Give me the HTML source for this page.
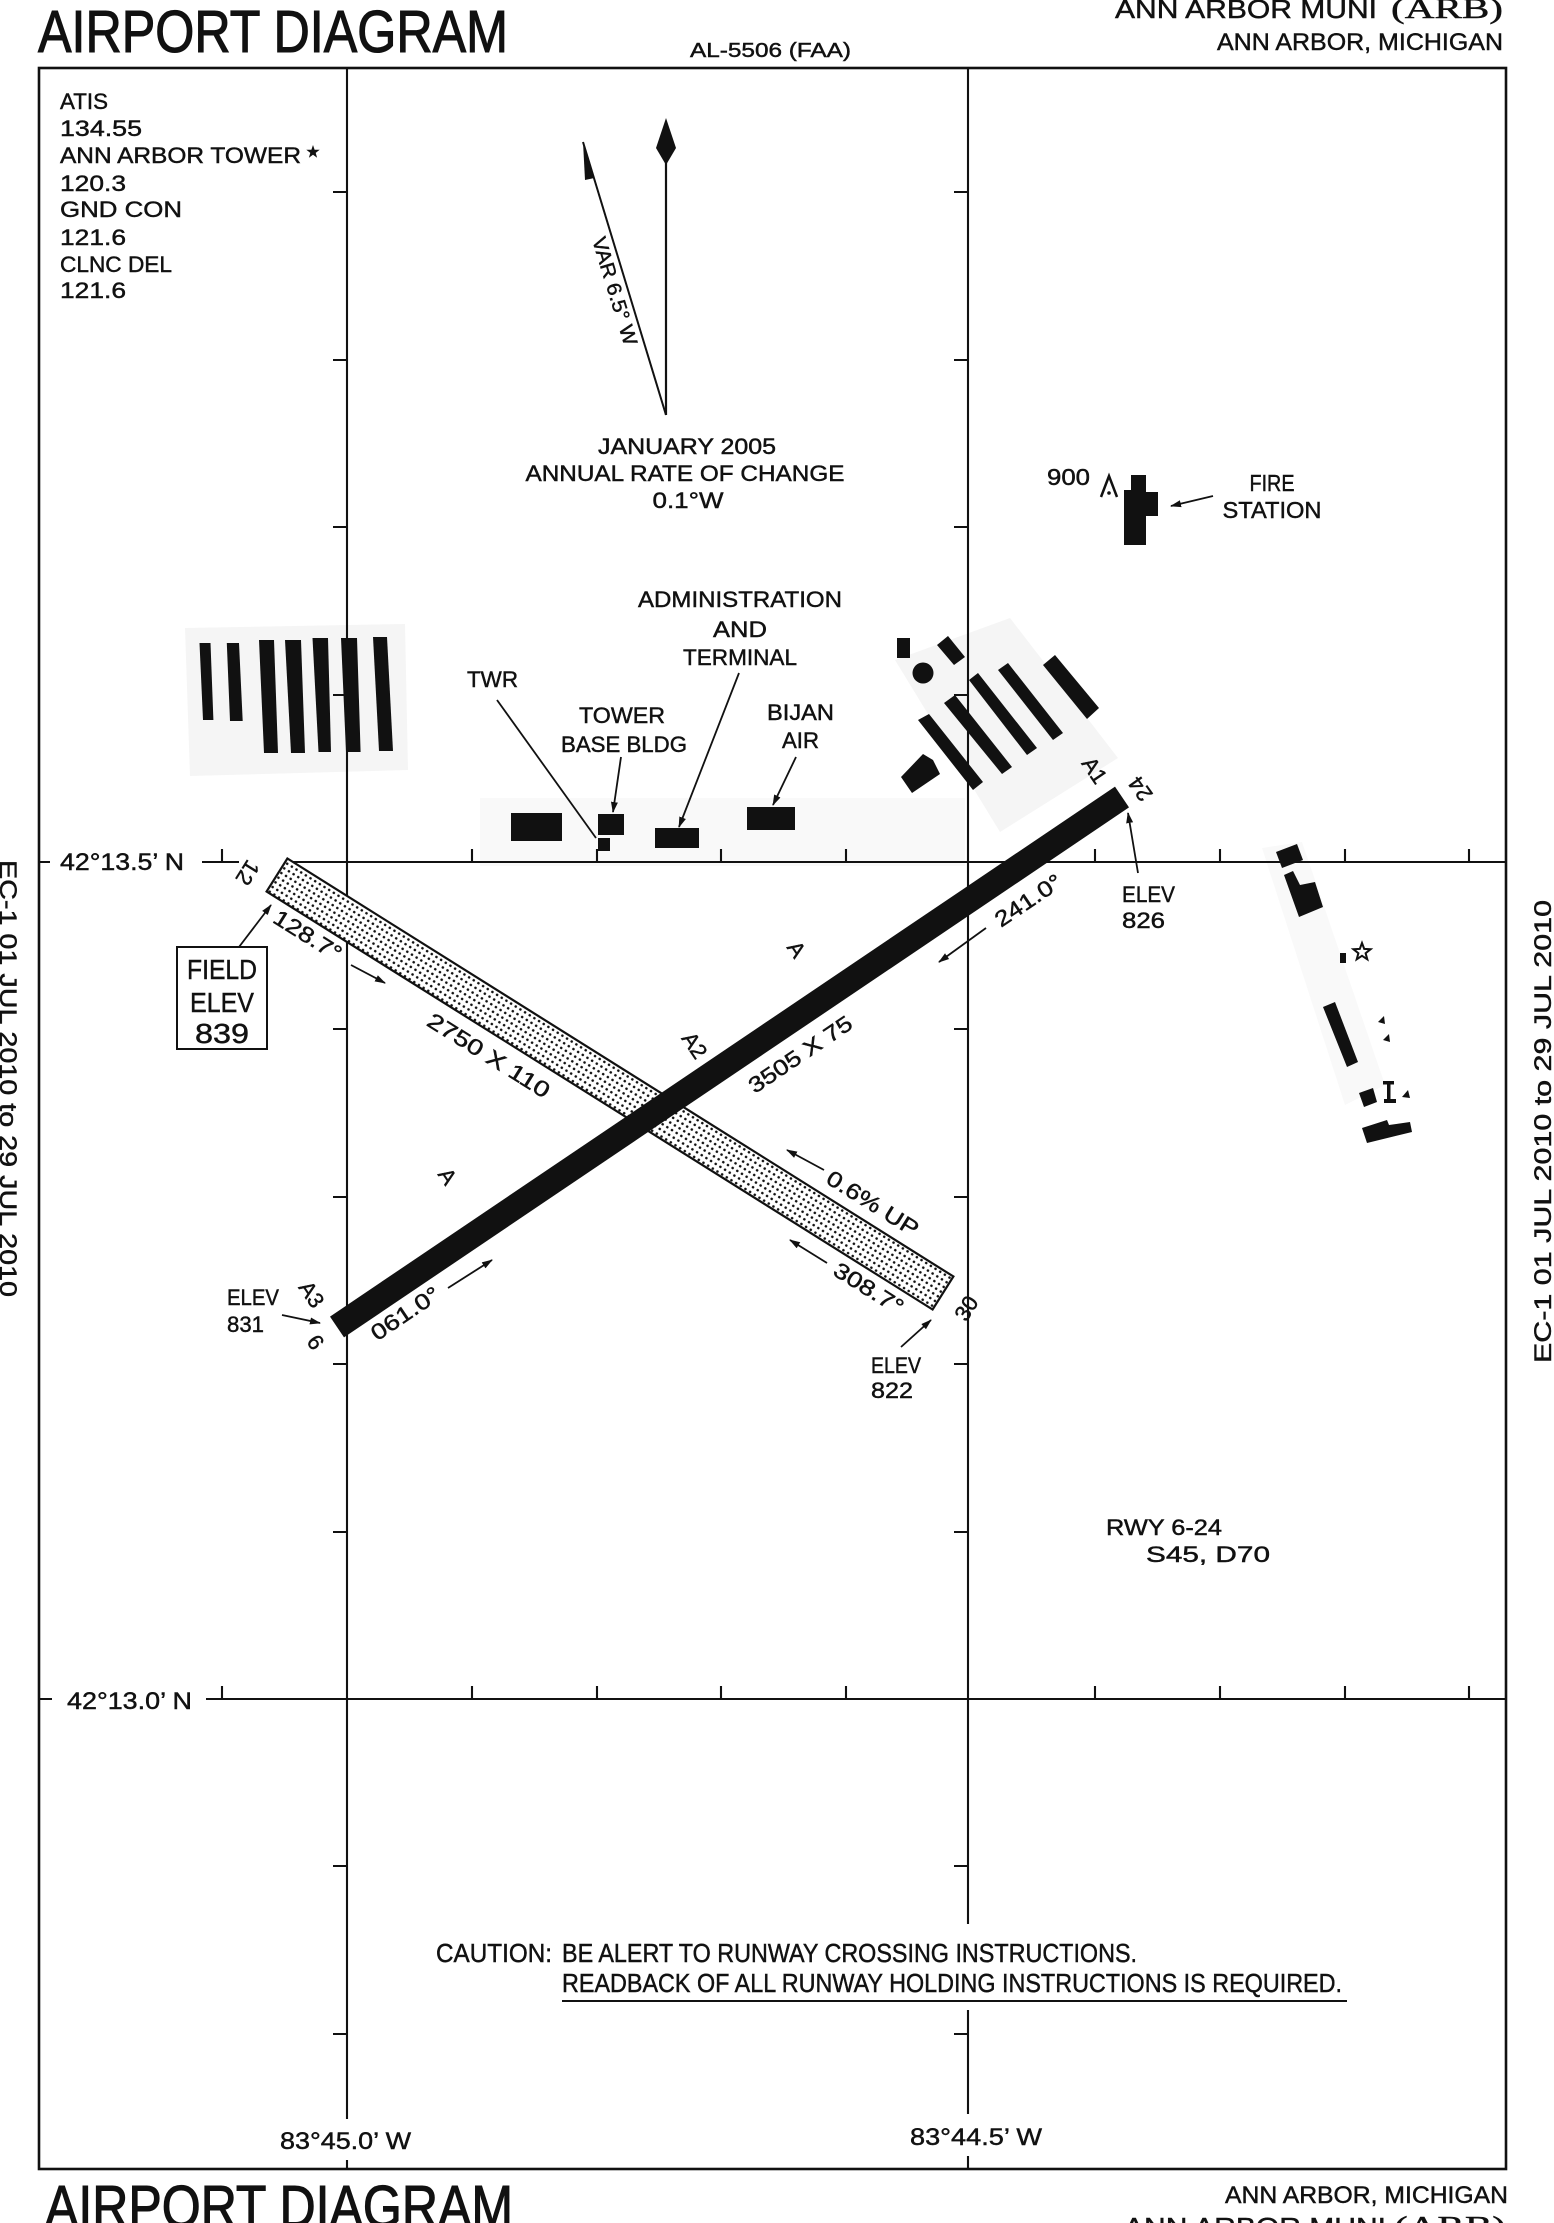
<!DOCTYPE html>
<html>
<head>
<meta charset="utf-8">
<style>
html,body{margin:0;padding:0;background:#fff;}
svg{display:block}
text{font-family:"Liberation Sans",sans-serif;fill:#111;stroke:#111;stroke-width:0.45px;}
.serif{font-family:"Liberation Serif",serif;}
.big{stroke-width:1.1px;}
</style>
</head>
<body>
<svg xmlns="http://www.w3.org/2000/svg" width="1554" height="2223" viewBox="0 0 1554 2223">
<defs>
  <pattern id="stip" width="5.5" height="5.5" patternUnits="userSpaceOnUse" patternTransform="rotate(32)">
    <rect width="5.5" height="5.5" fill="#fff"/>
    <circle cx="2.75" cy="2.75" r="1.3" fill="#111"/>
  </pattern>
  <marker id="ah" markerWidth="11" markerHeight="8" refX="10" refY="4" orient="auto" markerUnits="userSpaceOnUse">
    <path d="M0,0.5 L11,4 L0,7.5 z" fill="#111"/>
  </marker>
</defs>
<rect width="1554" height="2223" fill="#fff"/>

<!-- faint aprons -->
<g fill="#f5f5f5" stroke="none">
  <polygon points="185,628 405,624 408,770 190,776"/>
  <polygon points="895,660 1010,618 1118,758 1000,832"/>
</g>
<g fill="#f9f9f9" stroke="none">
  <polygon points="480,798 965,798 965,866 480,866"/>
  <polygon points="1262,848 1302,842 1385,1085 1345,1105"/>
</g>

<!-- Header -->
<text class="big" x="38" y="52" font-size="59" textLength="470" lengthAdjust="spacingAndGlyphs">AIRPORT DIAGRAM</text>
<text x="690" y="57" font-size="20" textLength="161" lengthAdjust="spacingAndGlyphs">AL-5506 (FAA)</text>
<text x="1115" y="18" font-size="26" textLength="262" lengthAdjust="spacingAndGlyphs">ANN ARBOR MUNI</text>
<text x="1391" y="18" font-size="28" class="serif" textLength="112" lengthAdjust="spacingAndGlyphs">(ARB)</text>
<text x="1217" y="50" font-size="24" textLength="286" lengthAdjust="spacingAndGlyphs">ANN ARBOR, MICHIGAN</text>

<!-- Frame -->
<rect x="39" y="68" width="1467" height="2101" fill="none" stroke="#111" stroke-width="2.6"/>

<!-- Grid lines -->
<g stroke="#111" stroke-width="2.1" fill="none">
  <path d="M347,68 V2119 M347,2160 V2169"/>
  <path d="M968,68 V1924 M968,2010 V2114 M968,2156 V2169"/>
  <path d="M202,862 H239 M286,862 H1506"/>
  <path d="M206,1699 H1506"/>
  <path d="M39,862 H50 M39,1699 H52"/>
  <path d="M333,192H347M333,360H347M333,527H347M333,695H347M333,1029H347M333,1197H347M333,1364H347M333,1532H347M333,1866H347M333,2034H347"/>
  <path d="M954,192H968M954,360H968M954,527H968M954,695H968M954,1029H968M954,1197H968M954,1364H968M954,1532H968M954,1866H968M954,2034H968"/>
  <path d="M222,849V862M472,849V862M597,849V862M721,849V862M846,849V862M1095,849V862M1220,849V862M1345,849V862M1469,849V862"/>
  <path d="M222,1686V1699M472,1686V1699M597,1686V1699M721,1686V1699M846,1686V1699M1095,1686V1699M1220,1686V1699M1345,1686V1699M1469,1686V1699"/>
</g>

<!-- Comms block -->
<g font-size="22.5">
  <text x="60" y="109" textLength="48" lengthAdjust="spacingAndGlyphs">ATIS</text>
  <text x="60" y="136" textLength="82" lengthAdjust="spacingAndGlyphs">134.55</text>
  <text x="60" y="163" textLength="241" lengthAdjust="spacingAndGlyphs">ANN ARBOR TOWER</text>
  <text x="60" y="191" textLength="66" lengthAdjust="spacingAndGlyphs">120.3</text>
  <text x="60" y="217" textLength="122" lengthAdjust="spacingAndGlyphs">GND CON</text>
  <text x="60" y="245" textLength="66" lengthAdjust="spacingAndGlyphs">121.6</text>
  <text x="60" y="272" textLength="112" lengthAdjust="spacingAndGlyphs">CLNC DEL</text>
  <text x="60" y="298" textLength="66" lengthAdjust="spacingAndGlyphs">121.6</text>
</g>
<polygon fill="#111" points="313,145 314.6,149.7 319.7,149.8 315.7,152.9 317.1,157.7 313,154.8 308.9,157.7 310.3,152.9 306.3,149.8 311.4,149.7"/>

<!-- Variation arrow -->
<line x1="666" y1="150" x2="666" y2="415" stroke="#111" stroke-width="2.2"/>
<polygon fill="#111" points="666,118 676,148 666,165 656,148"/>
<line x1="583" y1="142" x2="666" y2="415" stroke="#111" stroke-width="2"/>
<polygon fill="#111" points="583,142 585,180 594.5,178"/>
<text transform="translate(615,291) rotate(73.1)" text-anchor="middle" dy="7" font-size="20" textLength="112" lengthAdjust="spacingAndGlyphs">VAR 6.5° W</text>

<g font-size="22" text-anchor="middle">
  <text x="687" y="454" textLength="178" lengthAdjust="spacingAndGlyphs">JANUARY 2005</text>
  <text x="685" y="481" textLength="319" lengthAdjust="spacingAndGlyphs">ANNUAL RATE OF CHANGE</text>
  <text x="688" y="508" textLength="71" lengthAdjust="spacingAndGlyphs">0.1°W</text>
</g>

<!-- Fire station -->
<text x="1047" y="485" font-size="23" textLength="43" lengthAdjust="spacingAndGlyphs">900</text>
<polyline points="1101,497 1109,476 1117,497" fill="none" stroke="#111" stroke-width="2.5"/>
<circle cx="1109" cy="493" r="1.8" fill="#111"/>
<polygon fill="#111" points="1131,475 1146,475 1146,492 1158,492 1158,516 1146,516 1146,545 1124,545 1124,490 1131,490"/>
<line x1="1213" y1="496" x2="1171" y2="506" stroke="#111" stroke-width="1.8" marker-end="url(#ah)"/>
<g font-size="23" text-anchor="middle">
  <text x="1272" y="491" textLength="45" lengthAdjust="spacingAndGlyphs">FIRE</text>
  <text x="1272" y="518" textLength="99" lengthAdjust="spacingAndGlyphs">STATION</text>
</g>

<!-- Left hangars -->
<g fill="#111">
  <polygon points="199.5,643 210.5,643 213.4,720 203,720"/>
  <polygon points="226.8,643 239,643 242.7,721 230,721"/>
  <polygon points="259,640 274,640 278,753 264,753"/>
  <polygon points="285,640 301,640 305,753 291,753"/>
  <polygon points="312.5,638 328,638 331,752 318.5,752"/>
  <polygon points="341,638 357,638 360.6,752 346,752"/>
  <polygon points="373,637 387,637 393,751 379,751"/>
</g>

<!-- Terminal buildings -->
<g fill="#111">
  <rect x="511" y="813" width="51" height="28"/>
  <rect x="598" y="814" width="26" height="21"/>
  <rect x="598" y="838" width="12" height="13"/>
  <rect x="655" y="828" width="44" height="20"/>
  <rect x="747" y="807" width="48" height="23"/>
</g>
<g stroke="#111" stroke-width="1.8" fill="none">
  <line x1="497" y1="700" x2="596" y2="838"/>
  <line x1="621" y1="757" x2="613" y2="812" marker-end="url(#ah)"/>
  <line x1="739" y1="673" x2="679" y2="827" marker-end="url(#ah)"/>
  <line x1="796" y1="757" x2="773" y2="805" marker-end="url(#ah)"/>
</g>
<g font-size="22">
  <text x="467" y="687" textLength="51" lengthAdjust="spacingAndGlyphs">TWR</text>
  <text x="579" y="723" textLength="86" lengthAdjust="spacingAndGlyphs">TOWER</text>
  <text x="561" y="752" textLength="126" lengthAdjust="spacingAndGlyphs">BASE BLDG</text>
  <text x="740" y="607" text-anchor="middle" textLength="204" lengthAdjust="spacingAndGlyphs">ADMINISTRATION</text>
  <text x="740" y="637" text-anchor="middle" textLength="54" lengthAdjust="spacingAndGlyphs">AND</text>
  <text x="683" y="665" textLength="114" lengthAdjust="spacingAndGlyphs">TERMINAL</text>
  <text x="767" y="720" textLength="67" lengthAdjust="spacingAndGlyphs">BIJAN</text>
  <text x="782" y="748" textLength="37" lengthAdjust="spacingAndGlyphs">AIR</text>
</g>

<!-- Right hangars -->
<g fill="#111">
  <rect x="897" y="638" width="13" height="20"/>
  <polygon points="937,645 948,636 965,657 954,665"/>
  <circle cx="923" cy="673" r="10.5"/>
  <polygon points="1043,665 1055,655 1099,708 1087,719"/>
  <polygon points="998,670 1008,663 1063,733 1053,740"/>
  <polygon points="969,680 978,673 1037,748 1027,755"/>
  <polygon points="944,703 955,695 1012,767 1002,774"/>
  <polygon points="918,720 929,714 983,782 973,790"/>
  <polygon points="901,777 923,754 933,760 940,774 912,793"/>
</g>

<!-- Right-side buildings -->
<g fill="#111">
  <polygon points="1276,852 1297,844 1303,860 1282,868"/>
  <polygon points="1284,875 1293,871 1300,885 1315,882 1323,907 1299,917"/>
  <rect x="1340" y="953" width="6" height="10"/>
  <polygon points="1323,1007 1335,1002 1358,1062 1347,1067"/>
  <polygon points="1378,1022 1384,1016 1385,1024"/>
  <polygon points="1383,1040 1389,1034 1390,1042"/>
  <polygon points="1359,1093 1373,1088 1377,1102 1364,1107"/>
  <rect x="1383" y="1081" width="11" height="3.5"/>
  <rect x="1387" y="1081" width="3.5" height="21"/>
  <rect x="1384" y="1099" width="12" height="4"/>
  <polygon points="1402,1097 1408,1090 1410,1098"/>
  <polygon points="1362,1128 1387,1120 1389,1125 1410,1122 1412,1132 1367,1143"/>
</g>
<polygon fill="none" stroke="#111" stroke-width="2" points="1362,943 1364.2,948.9 1370.6,949.2 1365.6,953.2 1367.3,959.3 1362,955.8 1356.7,959.3 1358.4,953.2 1353.4,949.2 1359.8,948.9"/>

<!-- Runway 12-30 -->
<polygon points="287.4,858.5 266.6,891.5 932.6,1309.5 953.4,1276.5" fill="url(#stip)" stroke="#111" stroke-width="2.2"/>
<!-- Runway 6-24 -->
<polygon points="330,1316.6 344,1337.4 1129,807.4 1115,786.6" fill="#111"/>

<!-- Runway labels -->
<g font-size="22" text-anchor="middle">
  <text transform="translate(308,935) rotate(32)" dy="8" textLength="76" lengthAdjust="spacingAndGlyphs">128.7°</text>
  <text transform="translate(489,1055) rotate(32)" dy="8" textLength="140" lengthAdjust="spacingAndGlyphs">2750 X 110</text>
  <text transform="translate(873,1203) rotate(32)" dy="8" textLength="104" lengthAdjust="spacingAndGlyphs">0.6% UP</text>
  <text transform="translate(869,1288) rotate(32)" dy="8" textLength="78" lengthAdjust="spacingAndGlyphs">308.7°</text>
  <text transform="translate(800,1054) rotate(-34)" dy="8" textLength="120" lengthAdjust="spacingAndGlyphs">3505 X 75</text>
  <text transform="translate(1028,900) rotate(-34)" dy="8" textLength="76" lengthAdjust="spacingAndGlyphs">241.0°</text>
  <text transform="translate(405,1313) rotate(-34)" dy="8" textLength="78" lengthAdjust="spacingAndGlyphs">061.0°</text>
  <text transform="translate(248,873) rotate(122)" dy="8">12</text>
  <text transform="translate(966,1308) rotate(-58)" dy="8">30</text>
  <text transform="translate(316,1342) rotate(54.5)" dy="8">6</text>
  <text transform="translate(1140,789) rotate(-125.5)" dy="8">24</text>
  <text transform="translate(1095,770) rotate(56)" dy="8">A1</text>
  <text transform="translate(695,1045) rotate(56)" dy="8">A2</text>
  <text transform="translate(312,1294) rotate(56)" dy="8">A3</text>
  <text transform="translate(797,949) rotate(56)" dy="8">A</text>
  <text transform="translate(448,1176) rotate(56)" dy="8">A</text>
</g>
<g stroke="#111" stroke-width="1.8">
  <line x1="351" y1="965" x2="385" y2="983" marker-end="url(#ah)"/>
  <line x1="824" y1="1170" x2="787" y2="1150" marker-end="url(#ah)"/>
  <line x1="827" y1="1263" x2="790" y2="1240" marker-end="url(#ah)"/>
  <line x1="986" y1="928" x2="939" y2="962" marker-end="url(#ah)"/>
  <line x1="448" y1="1288" x2="492" y2="1260" marker-end="url(#ah)"/>
  <line x1="282" y1="1315" x2="320" y2="1323" marker-end="url(#ah)"/>
  <line x1="901" y1="1347" x2="931" y2="1320" marker-end="url(#ah)"/>
  <line x1="1138" y1="873" x2="1128" y2="813" marker-end="url(#ah)"/>
  <line x1="239" y1="947" x2="271" y2="905" marker-end="url(#ah)"/>
</g>

<!-- ELEV labels -->
<g font-size="22">
  <text x="227" y="1305" textLength="52" lengthAdjust="spacingAndGlyphs">ELEV</text>
  <text x="227" y="1332" textLength="37" lengthAdjust="spacingAndGlyphs">831</text>
  <text x="871" y="1373" textLength="50" lengthAdjust="spacingAndGlyphs">ELEV</text>
  <text x="871" y="1398" textLength="42" lengthAdjust="spacingAndGlyphs">822</text>
  <text x="1122" y="902" textLength="53" lengthAdjust="spacingAndGlyphs">ELEV</text>
  <text x="1122" y="928" textLength="43" lengthAdjust="spacingAndGlyphs">826</text>
</g>

<!-- Field elev box -->
<rect x="177" y="947" width="90" height="102" fill="#fff" stroke="#111" stroke-width="2"/>
<g font-size="28" text-anchor="middle">
  <text x="222" y="979" textLength="70" lengthAdjust="spacingAndGlyphs">FIELD</text>
  <text x="222" y="1012" textLength="64" lengthAdjust="spacingAndGlyphs">ELEV</text>
  <text x="222" y="1043" textLength="54" lengthAdjust="spacingAndGlyphs">839</text>
</g>

<!-- RWY note -->
<g font-size="22">
  <text x="1106" y="1535" textLength="116" lengthAdjust="spacingAndGlyphs">RWY 6-24</text>
  <text x="1146" y="1562" textLength="124" lengthAdjust="spacingAndGlyphs">S45, D70</text>
</g>

<!-- Grid labels -->
<g font-size="24">
  <text x="60" y="870" textLength="124" lengthAdjust="spacingAndGlyphs">42°13.5’ N</text>
  <text x="67" y="1709" textLength="125" lengthAdjust="spacingAndGlyphs">42°13.0’ N</text>
  <text x="280" y="2149" textLength="131" lengthAdjust="spacingAndGlyphs">83°45.0’ W</text>
  <text x="910" y="2145" textLength="132" lengthAdjust="spacingAndGlyphs">83°44.5’ W</text>
</g>

<!-- Caution -->
<g font-size="26">
  <text x="436" y="1962" textLength="116" lengthAdjust="spacingAndGlyphs">CAUTION:</text>
  <text x="562" y="1962" textLength="575" lengthAdjust="spacingAndGlyphs">BE ALERT TO RUNWAY CROSSING INSTRUCTIONS.</text>
  <text x="562" y="1992" textLength="780" lengthAdjust="spacingAndGlyphs">READBACK OF ALL RUNWAY HOLDING INSTRUCTIONS IS REQUIRED.</text>
</g>
<line x1="562" y1="2001" x2="1347" y2="2001" stroke="#111" stroke-width="2"/>

<!-- Footer -->
<text class="big" x="45" y="2227" font-size="59" textLength="468" lengthAdjust="spacingAndGlyphs">AIRPORT DIAGRAM</text>
<text x="1225" y="2203" font-size="24" textLength="283" lengthAdjust="spacingAndGlyphs">ANN ARBOR, MICHIGAN</text>
<text x="1124" y="2236" font-size="26" textLength="262" lengthAdjust="spacingAndGlyphs">ANN ARBOR MUNI</text>
<text x="1394" y="2236" font-size="28" class="serif" textLength="112" lengthAdjust="spacingAndGlyphs">(ARB)</text>

<!-- Side notes -->
<text transform="translate(0,860) rotate(90)" font-size="24" textLength="437" lengthAdjust="spacingAndGlyphs">EC-1  01 JUL 2010 to 29 JUL 2010</text>
<text transform="translate(1551,1363) rotate(-90)" font-size="24" textLength="463" lengthAdjust="spacingAndGlyphs">EC-1  01 JUL 2010 to 29 JUL 2010</text>
</svg>
</body>
</html>
